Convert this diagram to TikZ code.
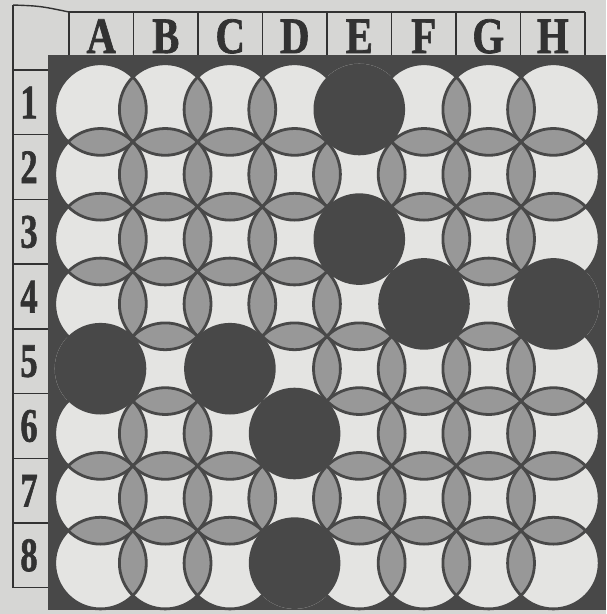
\documentclass[tikz,border=0pt]{standalone}
\usepackage{fontspec}
\setmainfont{Liberation Serif}
\newfontfamily\headfont[FakeBold=1.5]{Liberation Serif Bold}
\definecolor{paper}{RGB}{214, 214, 212}
\definecolor{board}{RGB}{72, 72, 72}
\definecolor{disc}{RGB}{228, 228, 226}
\definecolor{lens}{RGB}{152, 152, 152}
\definecolor{ink}{RGB}{50, 50, 50}
\usetikzlibrary{calc}

\newcommand\rad{45.8pt}
\newcommand\queenlist{5/1,5/3,6/4,8/4,1/5,3/5,4/6,4/8}

\begin{document}
\begin{tikzpicture}[x=1pt, y=-1pt,
  frame/.style={draw=ink, line width=1.4pt},
  colhead/.style={text=ink, font=\fontsize{51}{51}\headfont,
                  xscale=0.8, inner sep=0pt, anchor=base},
  rowhead/.style={text=ink, font=\fontsize{48}{48}\headfont,
                  xscale=0.72, inner sep=0pt},
  rim/.style={draw=board, line width=2.8pt}]
  \fill[paper] (0,0) rectangle (606,614);
  \useasboundingbox (0,0) rectangle (606,614);

  % letters along the top
  \draw[frame] (69,12) -- (585,12);
  \draw[frame] (69,56) -- (585,56);
  \foreach \k in {0,...,8}
    \draw[frame] (69+64.5*\k,12) -- (69+64.5*\k,56);
  \foreach \l [count=\k] in {A,...,H}
    \node[colhead] (col-\l) at (69+64.5*\k-32.25,53) {\l};

  % numbers down the side
  \draw[frame] (13,5) .. controls (40,6) .. (69,12);
  \draw[frame] (13,5) -- (13,588);
  \foreach \k in {0,...,8}
    \draw[frame] (13,70+64.7*\k) -- (48,70+64.7*\k);
  \foreach \r in {1,...,8}
    \node[rowhead] (row-\r) at (29,102.5+64.7*\r-64.7) {\r};

  % board
  \fill[board] (48,55) rectangle (606,610);
  \foreach \c in {1,...,8}
    \foreach \r in {1,...,8}
      \coordinate (c-\c-\r) at (100.5+64.7*\c-64.7,109.5+64.8*\r-64.8);
  \foreach \c/\r in \queenlist
    {\expandafter\gdef\csname qn-\c-\r\endcsname{}}

  \foreach \c in {1,...,8}
    \foreach \r in {1,...,8}
      \fill[disc] (c-\c-\r) circle[radius=\rad];

  % grey lenses between two free neighbours
  \foreach \c in {1,...,8}
    \foreach \r in {1,...,8} {
      \pgfmathtruncatemacro\cn{\c+1}
      \pgfmathtruncatemacro\rn{\r+1}
      \ifcsname qn-\c-\r\endcsname\else
        \ifnum\c<8
          \ifcsname qn-\cn-\r\endcsname\else
            \begin{scope}
              \clip (c-\c-\r) circle[radius=\rad];
              \fill[lens] (c-\cn-\r) circle[radius=\rad];
            \end{scope}
          \fi
        \fi
        \ifnum\r<8
          \ifcsname qn-\c-\rn\endcsname\else
            \begin{scope}
              \clip (c-\c-\r) circle[radius=\rad];
              \fill[lens] (c-\c-\rn) circle[radius=\rad];
            \end{scope}
          \fi
        \fi
      \fi
    }

  \foreach \c in {1,...,8}
    \foreach \r in {1,...,8} {
      \ifcsname qn-\c-\r\endcsname\else
        \draw[rim] (c-\c-\r) circle[radius=\rad];
      \fi
    }

  % the eight dark discs
  \foreach \c/\r in \queenlist
    \fill[board] (c-\c-\r) circle[radius=\rad];
\end{tikzpicture}
\end{document}
